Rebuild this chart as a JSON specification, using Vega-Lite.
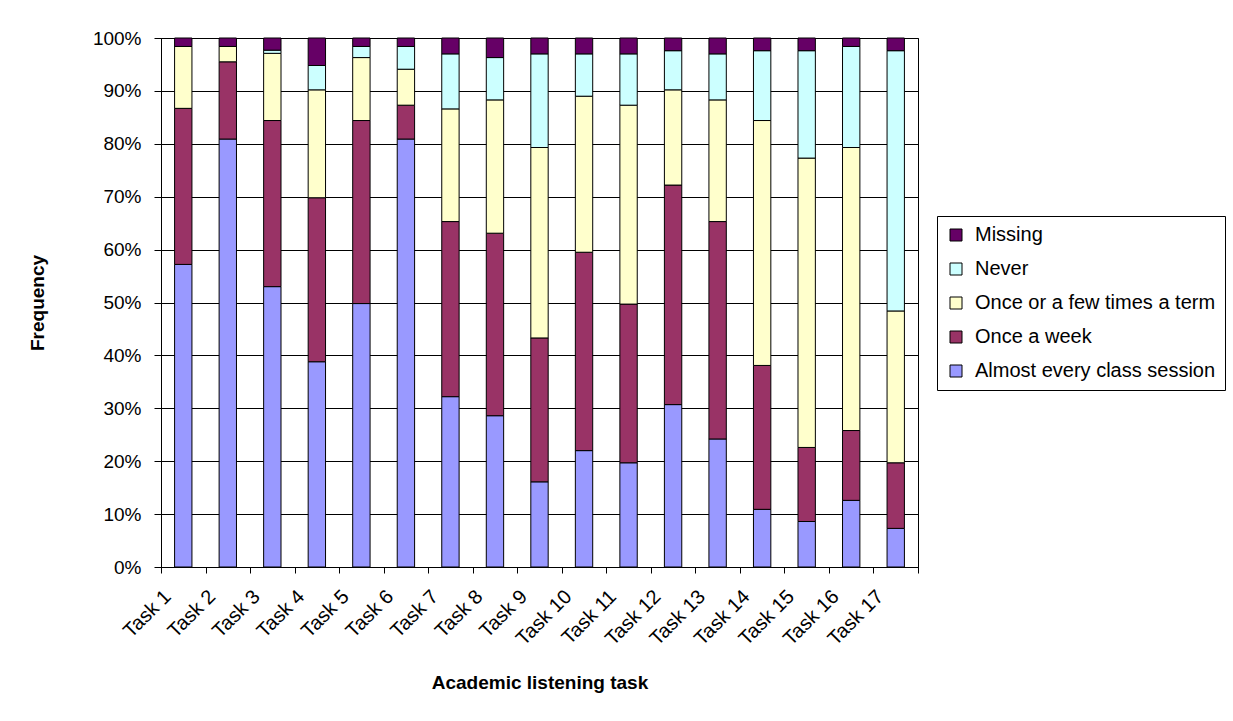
{
  "$schema": "https://vega.github.io/schema/vega-lite/v6.json",
  "width": 757,
  "height": 529,
  "autosize": {"type": "none"},
  "padding": {"left": 161, "top": 38, "right": 315, "bottom": 154},
  "background": "white",
  "config": {
    "font": "Liberation Sans",
    "view": {"stroke": "black", "strokeWidth": 1},
    "axis": {
      "labelFont": "Liberation Sans",
      "titleFont": "Liberation Sans",
      "labelColor": "black",
      "titleColor": "black",
      "domainColor": "black",
      "tickColor": "black",
      "gridColor": "black",
      "gridOpacity": 1,
      "gridWidth": 1,
      "domainWidth": 1,
      "tickWidth": 1
    }
  },
  "datasets": {
    "cats": [
      {"cat": "Almost every class session", "k": 1},
      {"cat": "Once a week", "k": 2},
      {"cat": "Once or a few times a term", "k": 3},
      {"cat": "Never", "k": 4},
      {"cat": "Missing", "k": 5}
    ]
  },
  "data": {
    "values": [
      {"task": "Task 1", "Almost every class session": 57.2, "Once a week": 29.5, "Once or a few times a term": 11.7, "Never": 0, "Missing": 1.6},
      {"task": "Task 2", "Almost every class session": 80.9, "Once a week": 14.6, "Once or a few times a term": 2.9, "Never": 0, "Missing": 1.6},
      {"task": "Task 3", "Almost every class session": 53.0, "Once a week": 31.4, "Once or a few times a term": 12.7, "Never": 0.6, "Missing": 2.3},
      {"task": "Task 4", "Almost every class session": 38.8, "Once a week": 31.0, "Once or a few times a term": 20.4, "Never": 4.6, "Missing": 5.2},
      {"task": "Task 5", "Almost every class session": 49.8, "Once a week": 34.6, "Once or a few times a term": 11.9, "Never": 2.1, "Missing": 1.6},
      {"task": "Task 6", "Almost every class session": 80.9, "Once a week": 6.4, "Once or a few times a term": 6.8, "Never": 4.3, "Missing": 1.6},
      {"task": "Task 7", "Almost every class session": 32.2, "Once a week": 33.1, "Once or a few times a term": 21.3, "Never": 10.4, "Missing": 3.0},
      {"task": "Task 8", "Almost every class session": 28.6, "Once a week": 34.5, "Once or a few times a term": 25.2, "Never": 8.0, "Missing": 3.7},
      {"task": "Task 9", "Almost every class session": 16.1, "Once a week": 27.2, "Once or a few times a term": 36.0, "Never": 17.7, "Missing": 3.0},
      {"task": "Task 10", "Almost every class session": 22.0, "Once a week": 37.5, "Once or a few times a term": 29.5, "Never": 8.0, "Missing": 3.0},
      {"task": "Task 11", "Almost every class session": 19.7, "Once a week": 30.0, "Once or a few times a term": 37.6, "Never": 9.7, "Missing": 3.0},
      {"task": "Task 12", "Almost every class session": 30.7, "Once a week": 41.5, "Once or a few times a term": 18.0, "Never": 7.4, "Missing": 2.4},
      {"task": "Task 13", "Almost every class session": 24.2, "Once a week": 41.1, "Once or a few times a term": 23.0, "Never": 8.7, "Missing": 3.0},
      {"task": "Task 14", "Almost every class session": 10.9, "Once a week": 27.2, "Once or a few times a term": 46.3, "Never": 13.2, "Missing": 2.4},
      {"task": "Task 15", "Almost every class session": 8.6, "Once a week": 14.0, "Once or a few times a term": 54.7, "Never": 20.3, "Missing": 2.4},
      {"task": "Task 16", "Almost every class session": 12.6, "Once a week": 13.2, "Once or a few times a term": 53.5, "Never": 19.1, "Missing": 1.6},
      {"task": "Task 17", "Almost every class session": 7.3, "Once a week": 12.4, "Once or a few times a term": 28.7, "Never": 49.2, "Missing": 2.4}
    ]
  },
  "transform": [
    {"fold": ["Almost every class session", "Once a week", "Once or a few times a term", "Never", "Missing"], "as": ["cat", "pct"]},
    {"lookup": "cat", "from": {"data": {"name": "cats"}, "key": "cat", "fields": ["k"]}}
  ],
  "mark": {"type": "bar", "stroke": "black", "strokeWidth": 1, "width": {"band": 0.39}},
  "encoding": {
    "x": {
      "field": "task",
      "type": "nominal",
      "sort": null,
      "scale": {"paddingInner": 0, "paddingOuter": 0},
      "axis": {
        "title": "Academic listening task",
        "titleFontSize": 19,
        "titleFontWeight": "bold",
        "titlePadding": 25,
        "labelAngle": -45,
        "labelFontSize": 20,
        "labelPadding": 13,
        "labelOffset": -23,
        "tickSize": 6,
        "tickBand": "extent",
        "grid": false
      }
    },
    "y": {
      "field": "pct",
      "type": "quantitative",
      "stack": "normalize",
      "scale": {"domain": [0, 1]},
      "axis": {
        "title": "Frequency",
        "titleFontSize": 19,
        "titleFontWeight": "bold",
        "titlePadding": 45,
        "format": ".0%",
        "values": [0, 0.1, 0.2, 0.3, 0.4, 0.5, 0.6, 0.7, 0.8, 0.9, 1],
        "labelFontSize": 19,
        "labelPadding": 13,
        "tickSize": 7,
        "grid": true
      }
    },
    "color": {
      "field": "cat",
      "type": "nominal",
      "scale": {
        "domain": ["Missing", "Never", "Once or a few times a term", "Once a week", "Almost every class session"],
        "range": ["#660066", "#CCFFFF", "#FFFFCC", "#993366", "#9999FF"]
      },
      "legend": {
        "title": null,
        "orient": "none",
        "legendX": 776,
        "legendY": 178,
        "strokeColor": "black",
        "fillColor": "white",
        "padding": 9,
        "rowPadding": 14,
        "symbolType": "square",
        "symbolSize": 144,
        "symbolStrokeColor": "black",
        "symbolStrokeWidth": 1,
        "labelFontSize": 20,
        "labelFont": "Liberation Sans",
        "labelColor": "black",
        "labelOffset": 9,
        "labelLimit": 400
      }
    },
    "order": {"field": "k", "type": "quantitative"}
  }
}
